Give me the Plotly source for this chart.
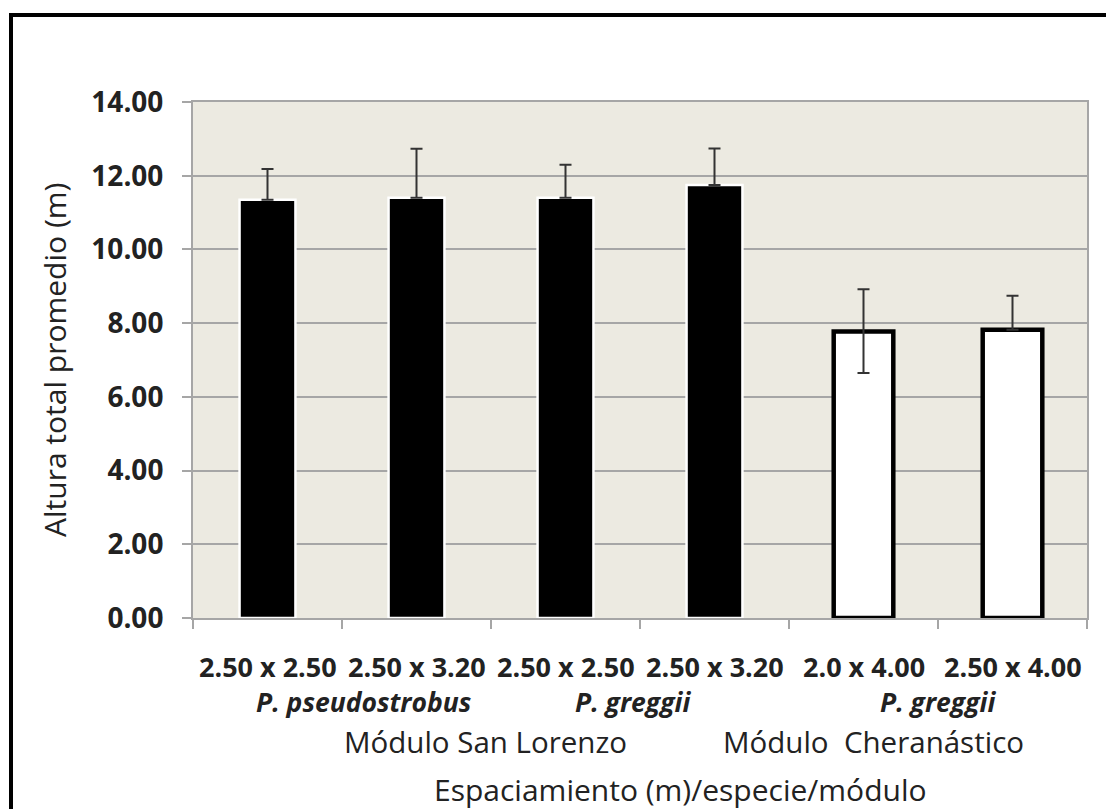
import plotly.graph_objects as go

# ---- data ----
spacing_labels = ["2.50 x 2.50", "2.50 x 3.20", "2.50 x 2.50", "2.50 x 3.20", "2.0 x 4.00", "2.50 x 4.00"]
heights = [11.35, 11.40, 11.40, 11.75, 7.77, 7.82]
err_plus = [0.83, 1.33, 0.90, 0.99, 1.15, 0.92]
err_minus = [0.0, 0.0, 0.0, 0.0, 1.12, 0.0]
module = ["San Lorenzo", "San Lorenzo", "San Lorenzo", "San Lorenzo", "Cheranástico", "Cheranástico"]
species_labels = ["P. pseudostrobus", "P. greggii", "P. greggii"]
species_pos = [0.65, 2.45, 4.5]
module_labels = ["Módulo San Lorenzo", "Módulo  Cheranástico"]
module_pos = [1.46, 4.07]
y_title = "Altura total promedio (m)"
x_title = "Espaciamiento (m)/especie/módulo"
y_ticks = [0, 2, 4, 6, 8, 10, 12, 14]

W, H = 1106, 809
L, R, T, B = 193, 1087, 102, 618
FONT = "Open Sans"
TXT = "#222222"


def py(pix):
    return (B - pix) / (B - T)


def px(pix):
    return (pix - L) / (R - L)


idx = list(range(len(heights)))
sl = [i for i in idx if module[i] == "San Lorenzo"]
ch = [i for i in idx if module[i] != "San Lorenzo"]

fig = go.Figure()
fig.add_trace(go.Bar(
    x=sl, y=[heights[i] for i in sl], width=0.375,
    marker=dict(color="black", line=dict(color="white", width=2.5)),
    error_y=dict(type="data", symmetric=False,
                 array=[err_plus[i] for i in sl],
                 arrayminus=[err_minus[i] for i in sl],
                 color="#333333", thickness=2, width=6),
    showlegend=False,
))
fig.add_trace(go.Bar(
    x=ch, y=[heights[i] for i in ch], width=0.40,
    marker=dict(color="white", line=dict(color="black", width=4.5)),
    error_y=dict(type="data", symmetric=False,
                 array=[err_plus[i] for i in ch],
                 arrayminus=[err_minus[i] for i in ch],
                 color="#333333", thickness=2, width=6),
    showlegend=False,
))

ann = []
for i, lab in enumerate(spacing_labels):
    ann.append(dict(x=i, y=py(666), xref="x", yref="paper", text="<b>%s</b>" % lab,
                    showarrow=False, xanchor="center", yanchor="middle", borderpad=0,
                    font=dict(family=FONT, size=27, color=TXT)))
for p, lab in zip(species_pos, species_labels):
    ann.append(dict(x=p, y=py(702), xref="x", yref="paper", text="<b><i>%s</i></b>" % lab,
                    showarrow=False, xanchor="center", yanchor="middle", borderpad=0,
                    font=dict(family=FONT, size=26.5, color=TXT)))
for p, lab in zip(module_pos, module_labels):
    ann.append(dict(x=p, y=py(741), xref="x", yref="paper", text=lab,
                    showarrow=False, xanchor="center", yanchor="middle", borderpad=0,
                    font=dict(family=FONT, size=29.5, color=TXT)))
ann.append(dict(x=2.77, y=py(789), xref="x", yref="paper", text=x_title,
                showarrow=False, xanchor="center", yanchor="middle", borderpad=0,
                font=dict(family=FONT, size=30, color=TXT)))
ann.append(dict(x=px(54), y=0.5, xref="paper", yref="paper", text=y_title,
                showarrow=False, xanchor="center", yanchor="middle", textangle=-90,
                font=dict(family=FONT, size=30, color=TXT)))

shapes = [dict(type="rect", xref="paper", yref="paper",
               x0=px(11), x1=px(1112), y0=py(815), y1=py(15),
               line=dict(color="black", width=4), fillcolor="rgba(0,0,0,0)", layer="above")]

fig.update_layout(
    width=W, height=H,
    margin=dict(l=L, r=W - R, t=T, b=H - B),
    paper_bgcolor="white", plot_bgcolor="#ECEAE1",
    barmode="overlay",
    annotations=ann, shapes=shapes,
    font=dict(family=FONT, color=TXT),
)
fig.update_xaxes(
    range=[-0.5, 5.5], tickvals=[i - 0.5 for i in range(len(heights) + 1)],
    showticklabels=False, ticks="outside", ticklen=9, tickcolor="#A6A6A6", tickwidth=2,
    showgrid=False, zeroline=False, showline=True, linecolor="#A6A6A6", linewidth=2, mirror=True,
)
fig.update_yaxes(
    range=[0, 14], tickvals=y_ticks, tickformat=".2f",
    ticks="outside", ticklen=9, tickcolor="#A6A6A6", tickwidth=2,
    ticklabelstandoff=13,
    tickfont=dict(family=FONT, size=28, color=TXT, weight="bold"),
    showgrid=True, gridcolor="#A6A6A6", gridwidth=2,
    zeroline=False, showline=True, linecolor="#A6A6A6", linewidth=2, mirror=True,
)

fig.write_html("out.html", config={"displayModeBar": False},
               post_script="document.body.style.margin='0';document.body.style.overflow='hidden';")
